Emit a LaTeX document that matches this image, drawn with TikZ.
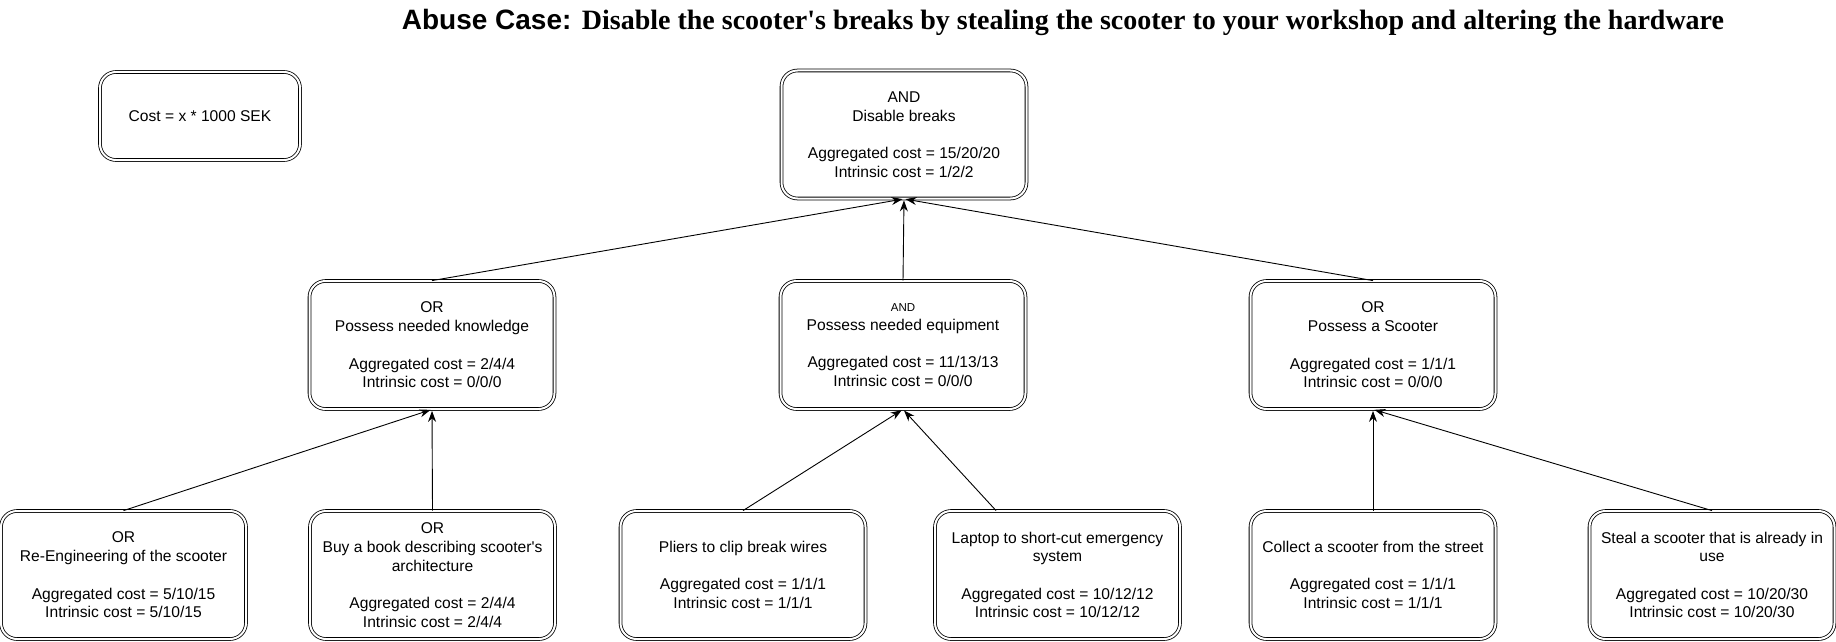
\documentclass[tikz,border=0pt]{standalone}
\usepackage{fontspec}
\setmainfont{Liberation Sans}
\newfontfamily\titleserif{Liberation Serif}
\usetikzlibrary{arrows.meta,calc}

\begin{document}
\begin{tikzpicture}[x=1pt, y=-1pt,
    goal/.style={rectangle, rounded corners=16pt, draw=black, double, double distance=2pt, line width=0.8pt,
                 minimum width=245pt, minimum height=128pt, align=center, inner sep=4pt,
                 font=\fontsize{15.6}{18.7}\selectfont},
    link/.style={black, line width=0.9pt, shorten >=1.5pt, -{Stealth[length=11pt, width=8pt]}}]
    \useasboundingbox (0,0) rectangle (1836,642);

    % title
    \node[anchor=base] (title) at (1063, 30) {\fontsize{28}{32}\selectfont\bfseries Abuse Case: {\titleserif Disable the scooter\textquotesingle s breaks by stealing the scooter to your workshop and altering the hardware}};

    % legend
    \node[goal, minimum width=200pt, minimum height=88pt] (unit) at (200, 116) {Cost = x * 1000 SEK};

    % root
    \node[goal] (breaks) at (904, 134.5) {AND\\Disable breaks\\[18.7pt]Aggregated cost = 15/20/20\\Intrinsic cost = 1/2/2};

    % second level
    \node[goal] (knowledge) at (432, 345) {OR\\Possess needed knowledge\\[18.7pt]Aggregated cost = 2/4/4\\Intrinsic cost = 0/0/0};
    \node[goal] (equipment) at (903, 345) {{\fontsize{11.5}{12}\selectfont AND}\\Possess needed equipment\\[18.7pt]Aggregated cost = 11/13/13\\Intrinsic cost = 0/0/0};
    \node[goal] (scooter)   at (1373, 345) {OR\\Possess a Scooter\\[18.7pt]Aggregated cost = 1/1/1\\Intrinsic cost = 0/0/0};

    % leaves
    \node[goal] (reeng)   at (123.5, 575) {OR\\Re-Engineering of the scooter\\[18.7pt]Aggregated cost = 5/10/15\\Intrinsic cost = 5/10/15};
    \node[goal] (book)    at (432.5, 575) {OR\\Buy a book describing scooter\textquotesingle s\\architecture\\[18.7pt]Aggregated cost = 2/4/4\\Intrinsic cost = 2/4/4};
    \node[goal] (pliers)  at (743, 575) {Pliers to clip break wires\\[18.7pt]Aggregated cost = 1/1/1\\Intrinsic cost = 1/1/1};
    \node[goal] (laptop)  at (1057.5, 575) {Laptop to short-cut emergency\\system\\[18.7pt]Aggregated cost = 10/12/12\\Intrinsic cost = 10/12/12};
    \node[goal] (collect) at (1373, 575) {Collect a scooter from the street\\[18.7pt]Aggregated cost = 1/1/1\\Intrinsic cost = 1/1/1};
    \node[goal] (steal)   at (1712, 575) {Steal a scooter that is already in\\use\\[18.7pt]Aggregated cost = 10/20/30\\Intrinsic cost = 10/20/30};

    \draw[link] (knowledge.north) -- (breaks.south);
    \draw[link] (equipment.north) -- (breaks.south);
    \draw[link] (scooter.north) -- (breaks.south);

    \draw[link] (reeng.north) -- (knowledge.south);
    \draw[link] (book.north) -- (knowledge.south);
    \draw[link] (pliers.north) -- (equipment.south);
    \draw[link] ($(laptop.north)!0.5!(laptop.north west)$) -- (equipment.south);
    \draw[link] (collect.north) -- (scooter.south);
    \draw[link] (steal.north) -- (scooter.south);
\end{tikzpicture}
\end{document}
